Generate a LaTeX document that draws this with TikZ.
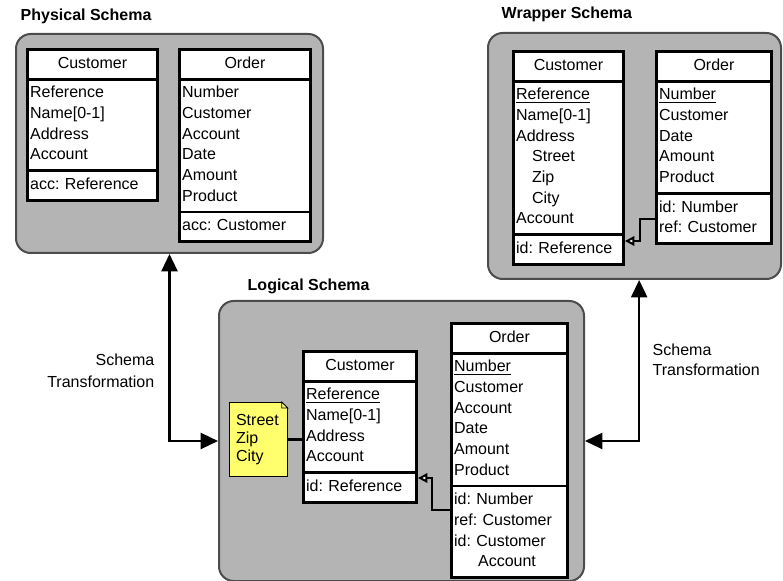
\documentclass[tikz,border=0pt]{standalone}
\usepackage{fontspec}
\setmainfont{Liberation Sans}
\usetikzlibrary{arrows.meta,shapes.multipart}
\definecolor{schemagray}{RGB}{180,180,180}
\definecolor{noteyellow}{RGB}{255,255,110}
\frenchspacing
\begin{document}
\begin{tikzpicture}[x=.75pt,y=-.75pt,font=\fontsize{12}{15.5}\selectfont,
schema/.style={draw=black!70,line width=1.5pt,fill=schemagray,rounded corners=11pt,anchor=north west,inner sep=0pt},
tbl/.style={draw,line width=2.2pt,fill=white,rectangle split,rectangle split parts=3,anchor=north west,align=left,inner xsep=2pt,inner ysep=2.25pt,text width=#1},
title/.style={anchor=base west,font=\fontsize{12}{14}\selectfont\bfseries},
trans/.style={line width=1.7pt,{Triangle[length=13pt,width=12pt]}-{Triangle[length=13pt,width=12pt]}},
fk/.style={line width=1.5pt,-{Triangle[open,length=7pt,width=7pt,fill=white]}}]
\useasboundingbox (0,0) rectangle (783,581);
\node[schema,minimum width=230.25pt,minimum height=164.25pt] (phys) at (15,33) {};
\node[schema,minimum width=219.75pt,minimum height=184.5pt] (wrap) at (487,32) {};
\node[schema,minimum width=273.75pt,minimum height=210pt] (logi) at (218,300) {};
\node[title] (ptitle) at (16,21) {Physical Schema};
\node[title] (wtitle) at (497,19) {Wrapper Schema};
\node[title] (ltitle) at (243,291) {Logical Schema};
\node[tbl=93.5pt] (pcust) at (26,48) {\strut\hfill Customer\hfill\null
\nodepart{second}\strut Reference\\Name[0-1]\\Address\\Account\strut
\nodepart{third}\strut acc: Reference};
\node[tbl=94.25pt] (pord) at (178,48) {\strut\hfill Order\hfill\null
\nodepart{second}\strut Number\\Customer\\Account\\Date\\Amount\\Product\strut
\nodepart{third}\strut acc: Customer};
\node[tbl=78.5pt] (wcust) at (512,50) {\strut\hfill Customer\hfill\null
\nodepart{second}\strut\underline{Reference}\\Name[0-1]\\Address\\\hspace*{1em}Street\\\hspace*{1em}Zip\\\hspace*{1em}City\\Account\strut
\nodepart{third}\strut id: Reference};
\node[tbl=82.25pt] (word) at (655,50) {\strut\hfill Order\hfill\null
\nodepart{second}\strut\underline{Number}\\Customer\\Date\\Amount\\Product\strut
\nodepart{third}\strut id: Number\\ref: Customer\strut};
\node[tbl=80.75pt] (lcust) at (302,350) {\strut\hfill Customer\hfill\null
\nodepart{second}\strut\underline{Reference}\\Name[0-1]\\Address\\Account\strut
\nodepart{third}\strut id: Reference};
\node[tbl=83pt] (lord) at (450,322) {\strut\hfill Order\hfill\null
\nodepart{second}\strut\underline{Number}\\Customer\\Account\\Date\\Amount\\Product\strut
\nodepart{third}\strut id: Number\\ref: Customer\\id: Customer\\\hspace*{1.5em}Account\strut};
\node[draw,line width=.6pt,fill=noteyellow,anchor=north west,minimum height=55.5pt,inner xsep=5pt,text width=33.5pt,align=left,font=\fontsize{12}{13.5}\selectfont] (note) at (229,402) {Street\\Zip\\City};
\fill[schemagray] (note.north east) ++(-6,0) -- ++(6,0) -- ++(0,6) -- cycle;
\draw[line width=.6pt,fill=noteyellow] (note.north east) ++(-6,0) -- ++(0,6) -- ++(6,0) -- cycle;
\draw[line width=2pt] (note.east) -- (lcust.west |- note.east);
\draw[trans] (phys.south) |- (logi.west);
\draw[trans] ([xshift=3.5pt]wrap.south) |- (logi.east);
\draw[fk] (lord.west |- 0,510) -- ++(-18,0) |- (lcust.east |- 0,478);
\draw[fk] (word.west |- 0,219) -- ++(-15,0) |- (wcust.east |- 0,241);
\node[align=right,anchor=east,font=\fontsize{12}{16.5}\selectfont] (ltrans) at (159,371) {Schema\\Transformation};
\node[align=left,anchor=west,font=\fontsize{12}{15}\selectfont] (rtrans) at (648,360) {Schema\\Transformation};
\end{tikzpicture}
\end{document}
